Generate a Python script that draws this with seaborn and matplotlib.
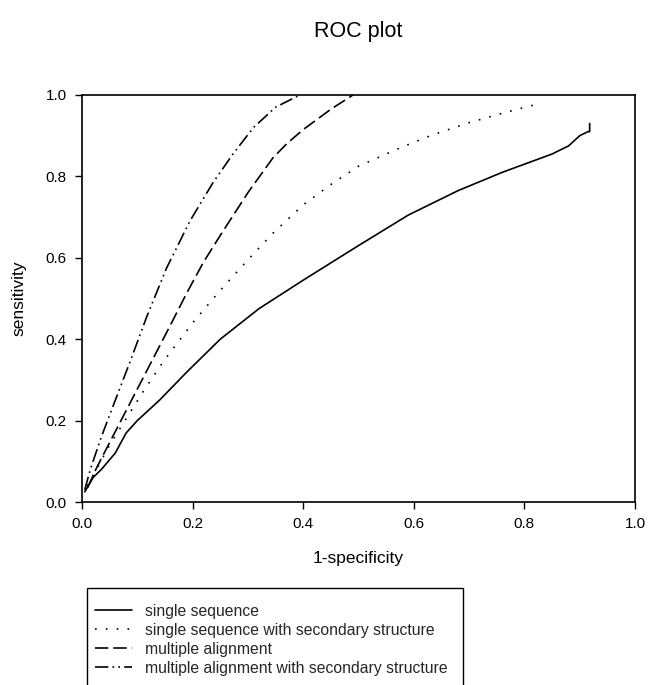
import numpy as np
import pandas as pd
import matplotlib
matplotlib.use("Agg")
import matplotlib.pyplot as plt
from matplotlib.patches import Rectangle
import seaborn as sns

series_names = [
    "single sequence",
    "single sequence with secondary structure",
    "multiple alignment",
    "multiple alignment with secondary structure",
]

ss_x = [0.005, 0.02, 0.035, 0.06, 0.08, 0.10, 0.14, 0.19, 0.25, 0.32, 0.40, 0.50,
        0.59, 0.68, 0.76, 0.80, 0.85, 0.88, 0.90, 0.915, 0.918, 0.918]
ss_y = [0.025, 0.06, 0.08, 0.12, 0.17, 0.20, 0.25, 0.32, 0.40, 0.475, 0.545, 0.63,
        0.705, 0.765, 0.81, 0.83, 0.855, 0.875, 0.90, 0.91, 0.91, 0.93]

sss_x = [0.01, 0.03, 0.05, 0.08, 0.11, 0.147, 0.20, 0.25, 0.30, 0.345, 0.40, 0.45,
         0.50, 0.575, 0.63, 0.695, 0.76, 0.83]
sss_y = [0.04, 0.09, 0.14, 0.205, 0.27, 0.345, 0.44, 0.52, 0.595, 0.66, 0.73, 0.78,
         0.825, 0.87, 0.90, 0.93, 0.955, 0.98]

ma_x = [0.01, 0.025, 0.04, 0.08, 0.12, 0.16, 0.19, 0.22, 0.25, 0.30, 0.345, 0.37,
        0.40, 0.45, 0.49]
ma_y = [0.035, 0.08, 0.12, 0.225, 0.33, 0.435, 0.515, 0.59, 0.655, 0.76, 0.845, 0.88,
        0.915, 0.965, 1.0]

mas_x = [0.005, 0.015, 0.035, 0.056, 0.087, 0.117, 0.153, 0.195, 0.237, 0.273,
         0.31, 0.35, 0.394]
mas_y = [0.03, 0.08, 0.16, 0.235, 0.345, 0.455, 0.575, 0.69, 0.785, 0.855,
         0.92, 0.97, 1.0]

ticks = [0.0, 0.2, 0.4, 0.6, 0.8, 1.0]
tick_labels = ["0.0", "0.2", "0.4", "0.6", "0.8", "1.0"]

rows = []
for name, xs, ys in zip(series_names, [ss_x, sss_x, ma_x, mas_x], [ss_y, sss_y, ma_y, mas_y]):
    for i, (a, b) in enumerate(zip(xs, ys)):
        rows.append({"series": name, "order": i, "x": a, "y": b})
df = pd.DataFrame(rows)

sns.set_style("white")
plt.rcParams["font.family"] = ["Liberation Sans", "DejaVu Sans"]

fig = plt.figure(figsize=(6.48, 6.85), dpi=100)
ax = fig.add_axes([82 / 648, 1 - 502 / 685, 553 / 648, 407 / 685])

dashes = {
    series_names[0]: "",
    series_names[1]: (1, 5.5),
    series_names[2]: (8, 3),
    series_names[3]: (8, 2.5, 1, 2.5, 1, 2.5),
}
sns.lineplot(data=df, x="x", y="y", style="series", dashes=dashes,
             color="black", sort=False, estimator=None, units="series",
             linewidth=1.2, ax=ax, legend=True)

handles, labels = ax.get_legend_handles_labels()
ax.get_legend().remove()

ax.set_xlim(0, 1)
ax.set_ylim(0, 1)
ax.set_xticks(ticks)
ax.set_xticklabels(tick_labels)
ax.set_yticks(ticks)
ax.set_yticklabels(tick_labels)
ax.tick_params(axis="both", direction="out", length=5, width=1, color="black",
               labelsize=11, labelcolor="black", bottom=True, left=True, pad=6)
for s in ax.spines.values():
    s.set_color("black")
    s.set_linewidth(1.2)
ax.set_xlabel("1-specificity", fontsize=12.5, labelpad=14, color="black")
ax.set_ylabel("sensitivity", fontsize=12.5, labelpad=14, color="black")

fig.text(358 / 648, 1 - 31 / 685, "ROC plot", ha="center", va="center",
         fontsize=15.5, color="black")

leg = fig.legend(handles, labels, loc="upper left",
                 bbox_to_anchor=(87 / 648, 1 - 596 / 685),
                 borderaxespad=0, fontsize=11.3, frameon=False,
                 handlelength=2.36, handletextpad=0.83,
                 labelspacing=0.25, borderpad=0.5)

fig.patches.append(Rectangle((87 / 648, -0.05), (463 - 87) / 648,
                             (1 - 588 / 685) + 0.05, fill=False,
                             edgecolor="black", linewidth=1.0,
                             transform=fig.transFigure, figure=fig))

fig.savefig("out.png", dpi=100)
